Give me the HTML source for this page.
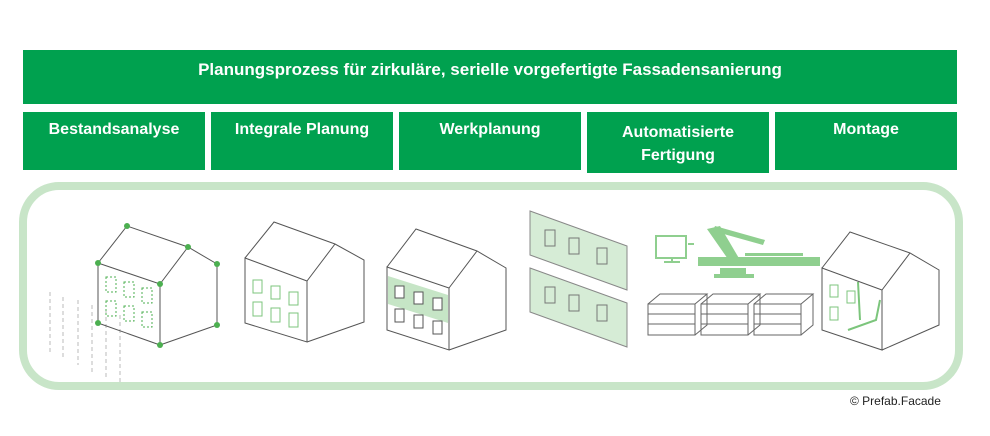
<!DOCTYPE html>
<html><head><meta charset="utf-8"><style>
body{margin:0;width:990px;height:436px;background:#fff;position:relative;overflow:hidden;font-family:"Liberation Sans",sans-serif}
.b{position:absolute;background:#00a14f;color:#fff;font-weight:bold;text-align:center;box-sizing:border-box}
</style></head><body>
<div class="b" style="left:23px;top:50px;width:934px;height:54px;font-size:17px;padding-top:10px">Planungsprozess für zirkuläre, serielle vorgefertigte Fassadensanierung</div>
<div class="b" style="left:23px;top:112px;width:182px;height:58px;font-size:16px;padding-top:9px">Bestandsanalyse</div>
<div class="b" style="left:211px;top:112px;width:182px;height:58px;font-size:16px;padding-top:9px">Integrale Planung</div>
<div class="b" style="left:399px;top:112px;width:182px;height:58px;font-size:16px;padding-top:9px">Werkplanung</div>
<div class="b" style="left:587px;top:112px;width:182px;height:61px;font-size:16px;padding-top:9px;line-height:23px">Automatisierte<br>Fertigung</div>
<div class="b" style="left:775px;top:112px;width:182px;height:58px;font-size:16px;padding-top:9px">Montage</div>
<div style="position:absolute;left:19px;top:182px;width:944px;height:208px;box-sizing:border-box;border:8px solid #c8e5c8;border-radius:40px"></div>
<div style="position:absolute;left:850px;top:394px;font-size:12px;color:#222">© Prefab.Facade</div>
<svg width="990" height="436" style="position:absolute;left:0;top:0" fill="none" stroke="#555" stroke-width="1">
<g stroke="#bbb" stroke-dasharray="4 3"><path d="M50 292 L50 355 M63 297 L63 358 M78 300 L78 365 M92 305 L92 372 M106 310 L106 378 M120 315 L120 382"/></g>
<path d="M98 263 L160 284 L160 345 L98 323 Z M98 263 L127 226 L188 247 L217 264 L217 325 L160 345 M188 247 L160 284"/>
<g fill="#4caf50" stroke="none"><circle cx="98" cy="263" r="3"/><circle cx="127" cy="226" r="3"/><circle cx="188" cy="247" r="3"/><circle cx="217" cy="264" r="3"/><circle cx="217" cy="325" r="3"/><circle cx="160" cy="345" r="3"/><circle cx="98" cy="323" r="3"/><circle cx="160" cy="284" r="3"/></g>
<g stroke="#4caf50" stroke-dasharray="2 2"><rect x="106" y="277" width="10" height="15"/><rect x="124" y="282" width="10" height="15"/><rect x="142" y="288" width="10" height="15"/><rect x="106" y="301" width="10" height="15"/><rect x="124" y="306" width="10" height="15"/><rect x="142" y="312" width="10" height="15"/></g>
<path d="M245 258 L307 281 L307 342 L245 323 Z M245 258 L274 222 L335 244 L364 260 L364 322 L307 342 M335 244 L307 281"/>
<g stroke="#7cc57c"><rect x="253" y="280" width="9" height="13"/><rect x="271" y="286" width="9" height="13"/><rect x="289" y="292" width="9" height="13"/><rect x="253" y="302" width="9" height="14"/><rect x="271" y="308" width="9" height="14"/><rect x="289" y="313" width="9" height="14"/></g>
<path d="M387 267 L449 288 L449 350 L387 330 Z M387 267 L416 229 L477 251 L506 268 L506 330 L449 350 M477 251 L449 288"/>
<path d="M388 276 L448 295 L448 323 L388 304 Z" fill="#b8deb8" stroke="none" opacity=".8"/>
<g stroke="#555"><rect x="395" y="286" width="9" height="12" fill="#fff"/><rect x="414" y="292" width="9" height="12" fill="#fff"/><rect x="433" y="298" width="9" height="12" fill="#fff"/><rect x="395" y="309" width="9" height="13"/><rect x="414" y="315" width="9" height="13"/><rect x="433" y="321" width="9" height="13"/></g>
<g fill="#d6ecd6" stroke="#888"><path d="M530 211 L627 246 L627 290 L530 255 Z"/><path d="M530 268 L627 303 L627 347 L530 312 Z"/></g>
<g stroke="#777"><rect x="545" y="230" width="10" height="16"/><rect x="569" y="238" width="10" height="16"/><rect x="597" y="248" width="10" height="16"/><rect x="545" y="287" width="10" height="16"/><rect x="569" y="295" width="10" height="16"/><rect x="597" y="305" width="10" height="16"/></g>
<g stroke="#8fcf8f" stroke-width="2"><rect x="656" y="236" width="30" height="22"/><path d="M664 262 L680 262 M672 258 L672 262"/><path d="M688 244 L694 244" /></g>
<g fill="#8fcf8f" stroke="none"><rect x="698" y="257" width="122" height="9"/><rect x="720" y="268" width="26" height="9"/><rect x="714" y="274" width="40" height="4"/><path d="M707 229 L720 226 L740 260 L730 262 Z"/><path d="M715 226 L765 240 L763 245 L713 231 Z"/><rect x="745" y="253" width="58" height="3"/></g>
<g stroke="#666"><path d="M648 304 L695 304 L695 335 L648 335 Z M648 314 L695 314 M648 324 L695 324 M648 304 L660 294 L707 294 L695 304 M707 294 L707 325 L695 335"/>
<path d="M701 304 L748 304 L748 335 L701 335 Z M701 314 L748 314 M701 324 L748 324 M701 304 L713 294 L760 294 L748 304 M760 294 L760 325 L748 335"/>
<path d="M754 304 L801 304 L801 335 L754 335 Z M754 314 L801 314 M754 324 L801 324 M754 304 L766 294 L813 294 L801 304 M813 294 L813 325 L801 335"/></g>
<path d="M822 268 L882 290 L882 350 L822 330 Z M822 268 L850 232 L910 253 L939 270 L939 325 L882 350 M910 253 L882 290"/>
<g stroke="#7cc57c"><rect x="830" y="285" width="8" height="12"/><rect x="847" y="291" width="8" height="12"/><rect x="830" y="307" width="8" height="13"/><path d="M848 330 L876 320 L880 300 M858 282 L860 320" stroke-width="2"/></g>
</svg>
</body></html>
